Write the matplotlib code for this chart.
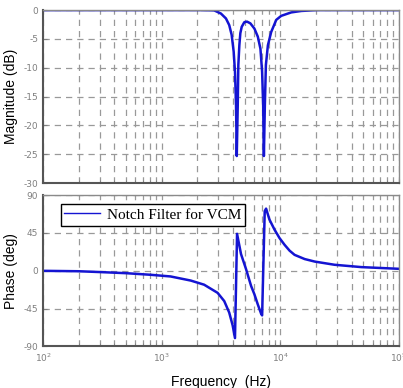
import matplotlib.pyplot as plt
import matplotlib.ticker as mticker
from matplotlib.lines import Line2D

plt.rcParams["axes.unicode_minus"] = False

# magnitude curve
mag_freq = [100, 1000, 2140, 2773, 3162, 3486, 3715, 3895, 4050, 4155, 4240, 4300,
            4383, 4434, 4522, 4610, 4735, 4980, 5250, 5600, 6055, 6470, 6810,
            7035, 7180, 7280, 7420, 7570, 7870, 8390, 9250, 10190, 12390,
            15060, 20200, 100000]
mag_db = [0, 0, 0, -0.05, -0.6, -1.45, -2.6, -4.3, -7.2, -10.7, -16.5, -25.3,
          -16.5, -9.5, -6.1, -4.0, -2.9, -2.1, -2.0, -2.3, -3.2, -4.6, -6.7,
          -10.7, -16.5, -25.3, -16.5, -9.5, -6.1, -3.8, -1.7, -1.0, -0.4,
          -0.15, 0, 0]

# phase curve
ph_freq = [100, 200, 304, 500, 807, 1190, 1762, 2282, 2965, 3373, 3715, 3972,
           4155, 4325, 4670, 5150, 5680, 6060, 6470, 6900, 7035, 7400, 7600,
           8110, 8950, 9860, 10870, 11990, 13210, 16070, 19540, 28700, 48500,
           100000]
ph_deg = [0, -0.5, -1.5, -2.8, -4.7, -6.7, -11.6, -16.5, -26.2, -36, -49.7, -65,
          -80, 44, 20, 2, -18, -28, -40, -51, -53, 71, 74,
          61, 49, 39, 31, 24, 19, 14, 11, 7.2, 4.4,
          2.4]

mag_ticks = [0, -5, -10, -15, -20, -25, -30]
ph_ticks = [90, 45, 0, -45, -90]
legend_label = "Notch Filter for VCM"

blue = "#1414d2"
gray = "#7f7f7f"

fig = plt.figure(figsize=(4.03, 3.88), dpi=100)
ax1 = fig.add_axes([0.1067, 0.528, 0.883, 0.446])
ax2 = fig.add_axes([0.1067, 0.107, 0.883, 0.390])

def style(ax):
    ax.set_xscale("log")
    ax.set_xlim(100, 100000)
    ax.xaxis.set_major_locator(mticker.LogLocator(base=10))
    ax.xaxis.set_minor_locator(mticker.LogLocator(base=10, subs=range(2, 10)))
    ax.grid(True, which="both", axis="x", color="#999999", linestyle=(0, (5, 4)), linewidth=0.9)
    ax.grid(True, which="major", axis="y", color="#999999", linestyle=(0, (5, 4)), linewidth=0.9)
    ax.tick_params(which="both", direction="in", colors=gray, labelsize=6.5, length=3)
    ax.tick_params(which="minor", length=2)
    for s in ax.spines.values():
        s.set_color("#8a8a8a")
        s.set_linewidth(1.0)
    ax.spines["left"].set_color("#555555")
    ax.spines["bottom"].set_color("#555555")
    ax.spines["left"].set_linewidth(1.5)
    ax.spines["bottom"].set_linewidth(1.5)

style(ax1)
ax1.plot(mag_freq, mag_db, color=blue, linewidth=1.8)
ax1.set_ylim(-30, 0)
ax1.set_yticks(mag_ticks)
ax1.tick_params(which="both", labelbottom=False)
ax1.set_ylabel("Magnitude (dB)", fontsize=10, family="Liberation Sans")

style(ax2)
ax2.plot(ph_freq, ph_deg, color=blue, linewidth=1.8)
ax2.set_ylim(-90, 90)
ax2.set_yticks(ph_ticks)
ax2.set_ylabel("Phase (deg)", fontsize=10, family="Liberation Sans")
ax2.set_xlabel("Frequency  (Hz)", fontsize=10, family="Liberation Sans", labelpad=8)

handle = Line2D([], [], color=blue, linewidth=1.0)
leg = ax2.legend([handle], [legend_label], loc="upper left",
                 bbox_to_anchor=(0.028, 0.99), prop={"family": "Liberation Serif", "size": 11},
                 fancybox=False, framealpha=1, edgecolor="black",
                 borderpad=0.25, handlelength=2.3, handletextpad=0.5)
leg.get_frame().set_linewidth(1.0)

fig.savefig("out.png", dpi=100)
